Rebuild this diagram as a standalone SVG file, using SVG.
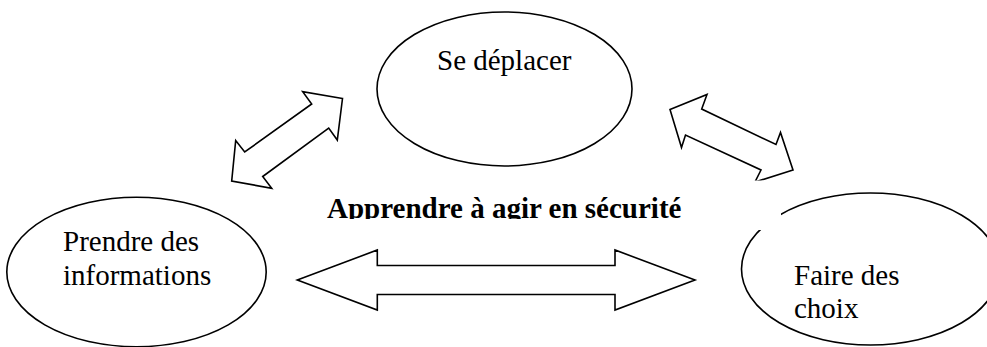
<svg xmlns="http://www.w3.org/2000/svg" width="987" height="347" viewBox="0 0 987 347">
<style>
.node{fill:#fff;stroke:#000;stroke-width:1.6}
.arrow{fill:#fff;stroke:#000;stroke-width:1.6;stroke-linejoin:miter}
.lbl{font-family:"Liberation Serif","Times New Roman",serif;font-size:29px;fill:#000}
.title{font-family:"Liberation Serif","Times New Roman",serif;font-size:29px;font-weight:bold;fill:#000}
</style>
<defs>
<clipPath id="titleClip"><rect x="300" y="180" width="420" height="39"/></clipPath>
</defs>
<rect width="987" height="347" fill="#fff"/>
<g id="node-deplacer">
<ellipse class="node" cx="504.5" cy="89" rx="127.5" ry="77"/>
<text class="lbl" x="437" y="70">Se déplacer</text>
</g>
<g id="node-informations">
<ellipse class="node" cx="136.5" cy="272" rx="129.7" ry="74.7"/>
<text class="lbl" x="63" y="251">Prendre des</text>
<text class="lbl" x="63" y="285">informations</text>
</g>
<g id="node-choix">
<ellipse class="node" cx="870.5" cy="269" rx="129" ry="76"/>
<text class="lbl" x="794" y="285">Faire des</text>
<text class="lbl" x="794" y="318">choix</text>
</g>
<g id="title">
<text class="title" x="327" y="218" clip-path="url(#titleClip)">Apprendre à agir en sécurité</text>
</g>
<g id="connectors">
<polygon class="arrow" points="342.5,98.5 302.7,91.7 311.7,104 244.7,152 235.7,140.5 231.7,181 271.7,188.3 262.7,176.5 328.7,128 337.3,140"/>
<polygon class="arrow" points="670,109.5 707,94.5 701.7,109 776,144.5 780.5,132.5 793,170 755,182 761,170 685.5,135 681.5,147.5"/>
<polygon class="arrow" points="297.3,280 377.3,250 377.3,265.5 615,265.5 615,250 695,280 615,310 615,294.5 377.3,294.5 377.3,310"/>
</g>
<rect x="700" y="180.5" width="81" height="49.5" fill="#fff"/>
</svg>
